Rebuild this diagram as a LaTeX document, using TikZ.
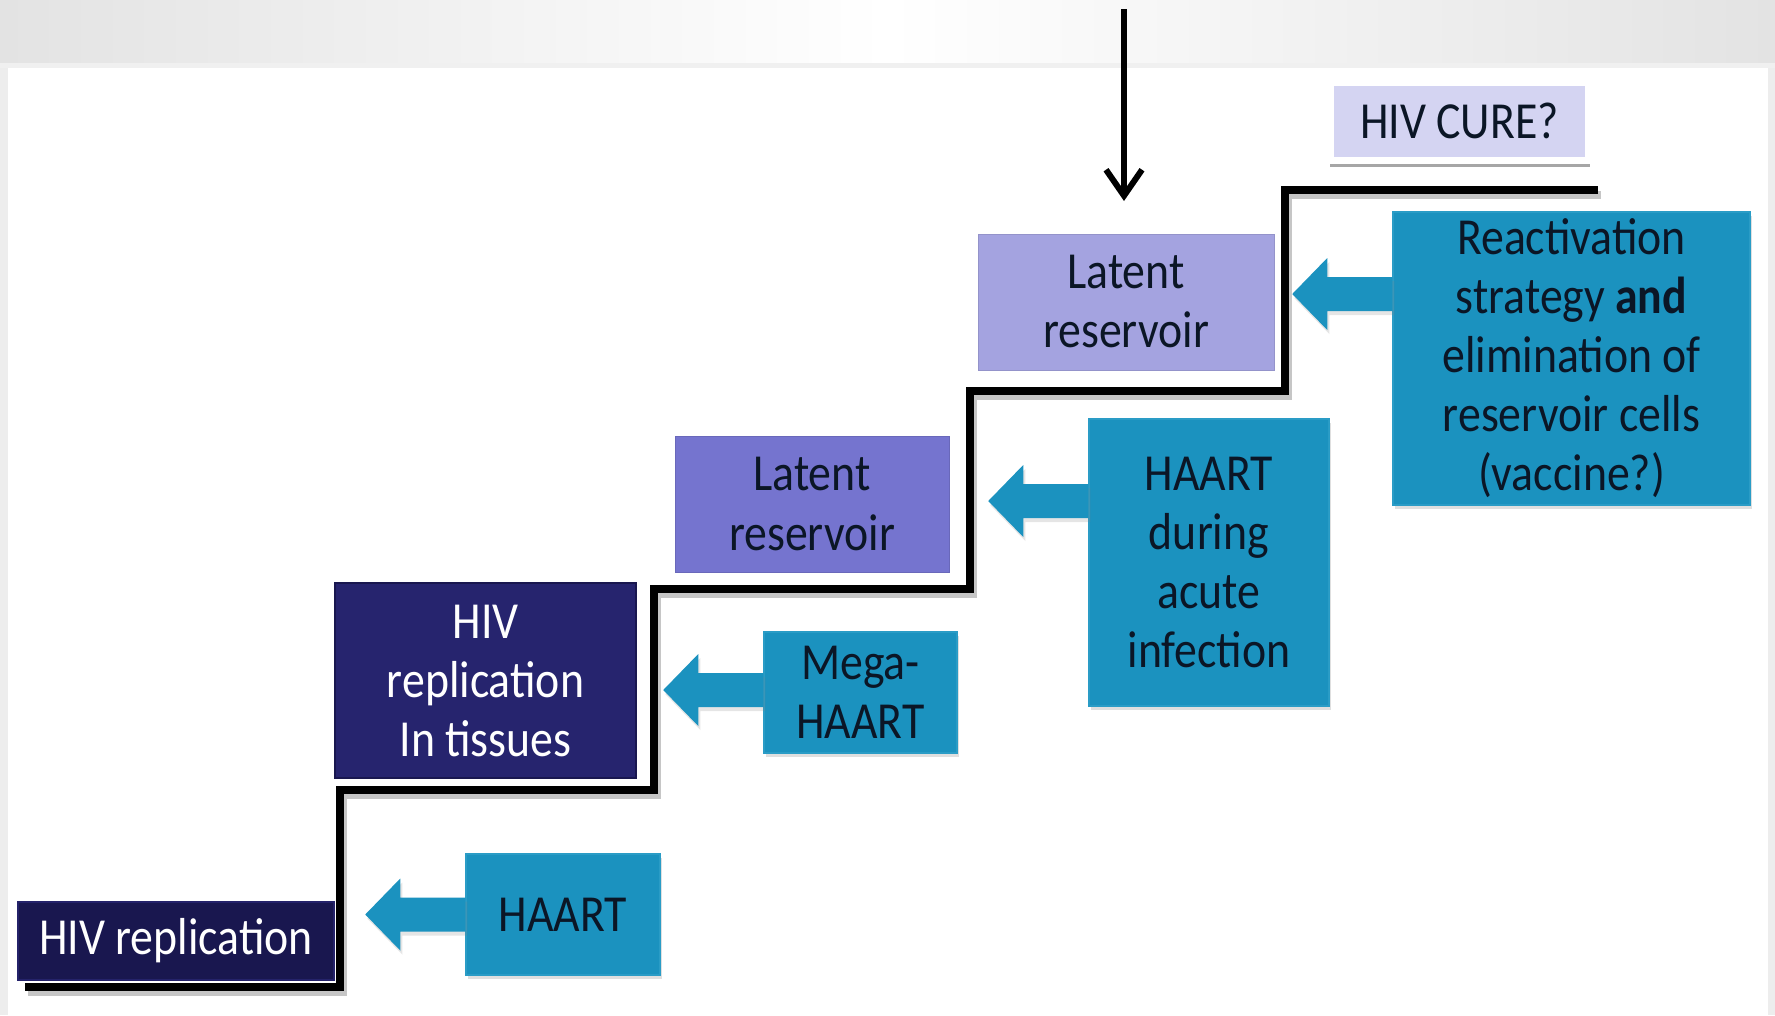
\documentclass[tikz,border=0pt]{standalone}
\usepackage{fontspec}
\setmainfont{Carlito}[FakeStretch=0.88]
\usetikzlibrary{arrows.meta,calc,shadows}
\definecolor{tealA}{HTML}{1B92BF}
\definecolor{tealB}{HTML}{2A9CC6}
\definecolor{navyA}{HTML}{19174F}
\definecolor{navyB}{HTML}{24226A}
\definecolor{navyC}{HTML}{26246E}
\definecolor{purpA}{HTML}{7574CF}
\definecolor{purpL}{HTML}{A4A3E0}
\definecolor{cureF}{HTML}{D4D4F2}
\definecolor{txtdark}{HTML}{0B1626}
\tikzset{
  base/.style={inner sep=0pt, align=center, font=\fontsize{52}{59}\selectfont},
  navybox/.style={base, fill=navyA, draw=navyB, line width=1.5pt, text=white},
  tealbox/.style={base, fill=tealA, draw=tealB, line width=1.5pt, text=txtdark,
    drop shadow={shadow xshift=2pt, shadow yshift=-4pt, opacity=0.25}},
  purpbox/.style={base, draw=#1!90!black, line width=1pt, fill=#1, text=txtdark},
  fatarrow/.style={fill=tealA, drop shadow={shadow xshift=2pt, shadow yshift=-4pt, opacity=0.2}},
  stair/.style={line width=8.5pt, line join=miter, black},
  stairshade/.style={line width=8.5pt, line join=miter, gray!45},
}
\newcommand\fatarr[1]{\path[fatarrow] ($(#1)+(0,-17)$) -- ++(-65,0) -- ++(0,-19) -- ++(-35,36) -- ++(35,36) -- ++(0,-19) -- ++(65,0) -- cycle;}
\begin{document}
\begin{tikzpicture}[x=1pt,y=-1pt]
\useasboundingbox (0,0) rectangle (1775,1015);
% background
\fill[gray!14] (0,0) rectangle (1775,1015);
\shade[left color=gray!22, right color=gray!22, middle color=white] (0,0) rectangle (1775,64);
\fill[gray!12] (0,63) rectangle (1775,68);
\fill[white] (8,68) rectangle (1768,1015);

% staircase
\draw[stairshade, shift={(3,5)}] (25,987) -- (340,987) -- (340,790) -- (654,790) -- (654,589) -- (970,589) -- (970,391) -- (1285,391) -- (1285,190) -- (1598,190);
\draw[stair] (25,987) -- (340,987) -- (340,790) -- (654,790) -- (654,589) -- (970,589) -- (970,391) -- (1285,391) -- (1285,190) -- (1598,190);

% boxes
\node[navybox, minimum width=316, minimum height=78] (hivrep) at (176,941) {HIV replication};
\node[tealbox, minimum width=194, minimum height=121] (haart) at (563,914.5) {HAART};
\node[navybox, fill=navyC, draw=navyA, minimum width=301, minimum height=195] (tissue) at (485.5,680.5) {HIV\\replication\\In tissues};
\node[tealbox, minimum width=193, minimum height=121] (mega) at (860.5,692.5) {Mega-\\HAART};
\node[purpbox=purpA, minimum width=274, minimum height=136] (lat1) at (812,504) {Latent\\reservoir};
\node[tealbox, minimum width=240, minimum height=287] (hada) at (1209,562.5) {HAART\\during\\acute\\infection};
\node[purpbox=purpL, minimum width=296, minimum height=136] (lat2) at (1126,302) {Latent\\reservoir};
\node[tealbox, minimum width=357, minimum height=293] (react) at (1571.5,358.5) {Reactivation\\strategy \textbf{and}\\elimination of\\reservoir cells\\(vaccine?)};
\draw[gray!70, line width=3pt] (1330,165) -- (1590,165);
\node[base, fill=cureF, draw=white, line width=5pt, minimum width=256, minimum height=76, text=txtdark] (cure) at (1459.5,121) {HIV CURE?};

% fat arrows
\coordinate (s1) at (haart.west);
\coordinate (s2) at (mega.west |- 0,690);
\coordinate (s3) at (hada.west |- 0,501);
\coordinate (s4) at (react.west |- 0,294);
\fatarr{s1}
\fatarr{s2}
\fatarr{s3}
\fatarr{s4}

% vertical arrow
\coordinate (vtop) at (1124,9);
\coordinate (vtip) at (1124,201);
\draw[line width=6pt, -{Straight Barb[length=26pt,width=36pt,line width=6pt]}] (vtop) -- (vtip);
\end{tikzpicture}
\end{document}
